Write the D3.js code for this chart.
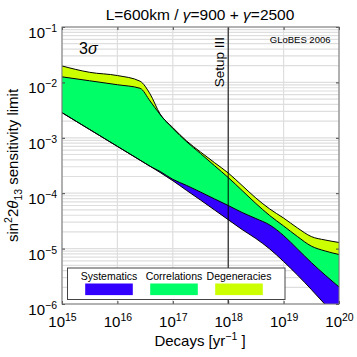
<!DOCTYPE html>
<html>
<head>
<meta charset="utf-8">
<script src="https://cdn.jsdelivr.net/npm/d3@7"></script>
<style>
  body { margin: 0; background: #fff; }
  svg { font-family: "Liberation Sans", Arial, sans-serif; }
</style>
</head>
<body>
<svg id="chart" width="357" height="357"></svg>
<script>
// decays per year (x) and sin^2 2theta13 limits
const decays = [1e15, 3.16e15, 1e16, 2.57e16, 3.89e16, 5.89e16, 1e17, 1.78e17, 3.16e17, 5.62e17,
  1e18, 1.78e18, 3.16e18, 5.62e18, 1e19, 1.78e19, 3.16e19, 5.62e19, 1e20];
const degeneraciesTop = [1.98e-2, 1.52e-2, 1.33e-2, 1.05e-2, 6.18e-3, 2.69e-3, 1.53e-3, 8.75e-4, 5.55e-4, 3.58e-4,
  2.32e-4, 1.38e-4, 8.18e-5, 5.19e-5, 3.56e-5, 2.36e-5, 1.65e-5, 1.43e-5, 1.29e-5];
const correlationsTop = [1.26e-2, 1.07e-2, 9.08e-3, 7.83e-3, 4.61e-3, 2.64e-3, 1.48e-3, 8.47e-4, 5.21e-4, 3.16e-4,
  1.92e-4, 1.12e-4, 6.52e-5, 3.95e-5, 2.56e-5, 1.65e-5, 1.11e-5, 9.06e-6, 7.83e-6];
const systematicsTop = [2.84e-3, 1.41e-3, 7.0e-4, 3.94e-4, 3.06e-4, 2.47e-4, 1.78e-4, 1.38e-4, 1.05e-4, 7.92e-5,
  6.0e-5, 4.49e-5, 3.49e-5, 2.67e-5, 1.72e-5, 9.84e-6, 5.61e-6, 3.33e-6, 2.03e-6];
const systematicsBottom = [2.84e-3, 1.41e-3, 7.0e-4, 3.94e-4, 3.06e-4, 2.37e-4, 1.68e-4, 1.12e-4, 7.53e-5, 5.01e-5,
  3.33e-5, 2.21e-5, 1.52e-5, 9.84e-6, 5.85e-6, 3.33e-6, 1.83e-6, 9.8e-7, 5.14e-7];

const xTickValues = [1e15, 1e16, 1e17, 1e18, 1e19, 1e20];
const xTickLabels = ["15", "16", "17", "18", "19", "20"];
const yTickValues = [1e-1, 1e-2, 1e-3, 1e-4, 1e-5, 1e-6];
const yTickLabels = ["\u22121", "\u22122", "\u22123", "\u22124", "\u22125", "\u22126"];
const legendLabels = ["Systematics", "Correlations", "Degeneracies"];
const setupDecays = 1e18;

const colors = { sys: "#3300ff", corr: "#00ff66", degen: "#ccff00" };

const margin = { top: 27, right: 18, bottom: 53, left: 62 },
  width = 357 - margin.left - margin.right,
  height = 357 - margin.top - margin.bottom;

const svg = d3.select("#chart");
svg.append("rect").attr("width", 357).attr("height", 357).attr("fill", "#fff");

const g = svg.append("g").attr("transform", `translate(${margin.left},${margin.top})`);

const x = d3.scaleLog().domain([1e15, 1e20]).range([0, width]);
const y = d3.scaleLog().domain([1e-6, 1e-1]).range([height, 0]);

g.append("clipPath").attr("id", "plot-clip")
  .append("rect").attr("width", width).attr("height", height);

// grid
g.append("g")
  .selectAll("line")
  .data(y.ticks())
  .join("line")
  .attr("x1", 0).attr("x2", width)
  .attr("y1", (d) => y(d)).attr("y2", (d) => y(d))
  .attr("stroke", "#dedede").attr("stroke-width", 1.2);
g.append("g")
  .selectAll("line")
  .data(xTickValues)
  .join("line")
  .attr("x1", (d) => x(d)).attr("x2", (d) => x(d))
  .attr("y1", 0).attr("y2", height)
  .attr("stroke", "#dedede").attr("stroke-width", 1.2);

// bands
const rows = decays.map((d, i) => ({
  d, dt: degeneraciesTop[i], ct: correlationsTop[i], st: systematicsTop[i], sb: systematicsBottom[i]
}));
const curve = d3.curveMonotoneX;
const band = (top, bot) => d3.area().curve(curve)
  .x((r) => x(r.d)).y0((r) => y(r[bot])).y1((r) => y(r[top]));

const plot = g.append("g").attr("clip-path", "url(#plot-clip)");
plot.append("path").datum(rows).attr("d", band("dt", "ct")).attr("fill", colors.degen);
plot.append("path").datum(rows).attr("d", band("ct", "st")).attr("fill", colors.corr);
plot.append("path").datum(rows).attr("d", band("st", "sb")).attr("fill", colors.sys);

["dt", "ct", "st", "sb"].forEach((k) => {
  plot.append("path").datum(rows)
    .attr("d", d3.line().curve(curve).x((r) => x(r.d)).y((r) => y(r[k])))
    .attr("fill", "none").attr("stroke", "#000").attr("stroke-width", 1);
});

// Setup III marker
g.append("line")
  .attr("x1", x(setupDecays)).attr("x2", x(setupDecays))
  .attr("y1", 0).attr("y2", height)
  .attr("stroke", "#000").attr("stroke-width", 1);
g.append("text")
  .attr("transform", `translate(${x(setupDecays) - 4},10) rotate(-90)`)
  .attr("text-anchor", "end")
  .attr("font-size", 13.5)
  .text("Setup III");

// axes
const supLabels = (labels, sel) => {
  sel.selectAll(".tick text").each(function (d, i) {
    const t = d3.select(this).text("");
    t.append("tspan").text("10");
    t.append("tspan").attr("dy", -6).attr("font-size", 10.5).text(labels[i]);
  });
};

const xAxis = g.append("g")
  .attr("transform", `translate(0,${height})`)
  .call(d3.axisBottom(x).tickValues(xTickValues).tickSizeInner(-3).tickSizeOuter(0).tickPadding(9));
const yAxis = g.append("g")
  .call(d3.axisLeft(y).tickValues(yTickValues).tickSizeInner(-3).tickSizeOuter(0).tickPadding(5));
g.append("g")
  .attr("transform", `translate(${width},0)`)
  .call(d3.axisRight(y).tickValues(yTickValues).tickSizeInner(-3).tickSizeOuter(0).tickFormat(""));
g.append("g")
  .call(d3.axisTop(x).tickValues(xTickValues).tickSizeInner(-3).tickSizeOuter(0).tickFormat(""));

g.selectAll(".domain").remove();
g.selectAll(".tick line").attr("stroke", "#444");
g.selectAll(".tick text").attr("font-size", 15).attr("fill", "#000")
  .attr("font-family", "Liberation Sans, Arial, sans-serif");
supLabels(xTickLabels, xAxis);
supLabels(yTickLabels, yAxis);
xAxis.selectAll(".tick text").attr("dy", "0.95em");
yAxis.selectAll(".tick text").attr("dy", "0.7em");

g.append("rect")
  .attr("width", width).attr("height", height)
  .attr("fill", "none").attr("stroke", "#777").attr("stroke-width", 1);

// legend
const legend = g.append("g").attr("transform", `translate(${67.5 - margin.left},${268 - margin.top})`);
legend.append("rect")
  .attr("width", 217.5).attr("height", 31.5)
  .attr("fill", "#fff").attr("stroke", "#444").attr("stroke-width", 1);
const legendColors = [colors.sys, colors.corr, colors.degen];
legendLabels.forEach((label, i) => {
  const cx = 41.5 + i * 65;
  legend.append("text")
    .attr("x", cx).attr("y", 11.5)
    .attr("text-anchor", "middle").attr("font-size", 10.5)
    .text(label);
  legend.append("rect")
    .attr("x", cx - 23.8).attr("y", 15.5)
    .attr("width", 47.6).attr("height", 11.6)
    .attr("fill", legendColors[i]);
});

// labels
svg.append("text")
  .attr("x", 200).attr("y", 20)
  .attr("text-anchor", "middle").attr("font-size", 15.5)
  .call((t) => {
    t.append("tspan").text("L=600km / ");
    t.append("tspan").attr("font-style", "italic").text("\u03b3");
    t.append("tspan").text("=900 + ");
    t.append("tspan").attr("font-style", "italic").text("\u03b3");
    t.append("tspan").text("=2500");
  });

svg.append("text")
  .attr("x", 79).attr("y", 54)
  .attr("font-size", 16)
  .call((t) => {
    t.append("tspan").text("3");
    t.append("tspan").attr("font-style", "italic").text("\u03c3");
  });

svg.append("text")
  .attr("x", 330.5).attr("y", 42.7)
  .attr("text-anchor", "end").attr("font-size", 9.5)
  .text("GLoBES 2006");

svg.append("text")
  .attr("x", 200).attr("y", 346)
  .attr("text-anchor", "middle").attr("font-size", 15)
  .call((t) => {
    t.append("tspan").text("Decays [yr");
    t.append("tspan").attr("dy", -6).attr("font-size", 10.5).text("\u22121");
    t.append("tspan").attr("dy", 6).text(" ]");
  });

svg.append("text")
  .attr("transform", "translate(18,165.5) rotate(-90)")
  .attr("text-anchor", "middle").attr("font-size", 15)
  .call((t) => {
    t.append("tspan").text("sin");
    t.append("tspan").attr("dy", -6).attr("font-size", 10.5).text("2");
    t.append("tspan").attr("dy", 6).text("2");
    t.append("tspan").attr("font-style", "italic").text("\u03b8");
    t.append("tspan").attr("dy", 4).attr("font-size", 10.5).text("13");
    t.append("tspan").attr("dy", -4).text(" sensitivity limit");
  });
</script>
</body>
</html>
